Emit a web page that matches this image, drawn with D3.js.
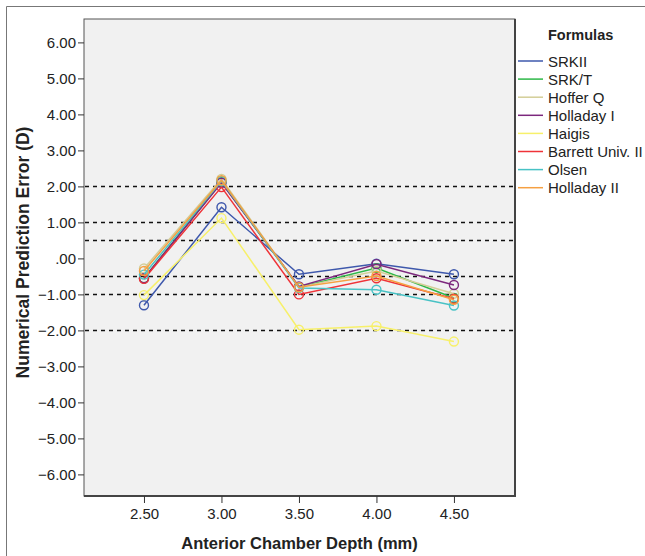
<!DOCTYPE html>
<html>
<head>
<meta charset="utf-8">
<script src="https://cdn.jsdelivr.net/npm/d3@7"></script>
<style>
  body { margin: 0; background: #fff; }
  text { font-family: "Liberation Sans", Arial, sans-serif; fill: #222; }
</style>
</head>
<body>
<script>
// data
const depths = [2.5, 3.0, 3.5, 4.0, 4.5];
const formulas = ["SRKII", "SRK/T", "Hoffer Q", "Holladay I", "Haigis", "Barrett Univ. II", "Olsen", "Holladay II"];
const colours = ["#3e58ac", "#2eb848", "#d3ce97", "#7c287d", "#f7f06a", "#ef3338", "#48c2c5", "#f5a042"];

const srk2 = [-1.30, 1.42, -0.44, -0.15, -0.44];
const srkt = [-0.55, 2.12, -0.80, -0.27, -1.10];
const hofferQ = [-0.28, 2.21, -0.80, -0.35, -0.98];
const holladay1 = [-0.55, 2.10, -0.78, -0.16, -0.74];
const haigis = [-1.02, 1.12, -1.98, -1.88, -2.31];
const barrett = [-0.57, 1.98, -1.00, -0.55, -1.12];
const olsen = [-0.45, 2.15, -0.82, -0.87, -1.31];
const holladay2 = [-0.35, 2.17, -0.80, -0.49, -1.15];
const seriesValues = [srk2, srkt, hofferQ, holladay1, haigis, barrett, olsen, holladay2];

const refLines = [2, 1, 0.5, -0.5, -1, -2];
const yTicks = [6, 5, 4, 3, 2, 1, 0, -1, -2, -3, -4, -5, -6];

const width = 645, height = 556;
const margin = { top: 19, right: 130, bottom: 60, left: 84 };

const svg = d3.select("body").append("svg")
    .attr("width", width)
    .attr("height", height);

// outer frame (only left/top visible in the picture)
svg.append("path")
    .attr("d", `M6.5,${height} V6.5 H${width}`)
    .attr("fill", "none")
    .attr("stroke", "#777")
    .attr("stroke-width", 1);

const x = d3.scaleLinear()
    .domain([2.113, 4.894])
    .range([margin.left, width - margin.right]);

const y = d3.scaleLinear()
    .domain([-6.6, 6.65])
    .range([height - margin.bottom, margin.top]);

const x0 = margin.left, x1 = width - margin.right;
const y0 = margin.top, y1 = height - margin.bottom;

// plot background
svg.append("rect")
    .attr("x", x0).attr("y", y0)
    .attr("width", x1 - x0).attr("height", y1 - y0)
    .attr("fill", "#f1f1f1")
    .attr("stroke", "#555")
    .attr("stroke-width", 1);

// darker right/bottom edge
svg.append("path")
    .attr("d", `M${x1},${y0} V${y1} H${x0}`)
    .attr("fill", "none")
    .attr("stroke", "#444")
    .attr("stroke-width", 2);

// dashed reference lines
svg.selectAll(".ref")
    .data(refLines)
    .enter()
    .append("line")
    .attr("class", "ref")
    .attr("x1", x0 + 1).attr("x2", x1 - 1)
    .attr("y1", (d) => Math.round(y(d)) + 0.5)
    .attr("y2", (d) => Math.round(y(d)) + 0.5)
    .attr("stroke", "#111")
    .attr("stroke-width", 1.4)
    .attr("stroke-dasharray", "4,4");

// axes
const yAxis = d3.axisLeft(y)
    .tickValues(yTicks)
    .tickSize(6)
    .tickPadding(2)
    .tickFormat((d) => d === 0 ? ".00" : d3.format(".2f")(d));

const gy = svg.append("g")
    .attr("transform", `translate(${x0},0)`)
    .call(yAxis);
gy.select(".domain").remove();
gy.selectAll("line").attr("stroke", "#333");
gy.selectAll("text").style("font-size", "15px").attr("fill", "#222");

const xAxis = d3.axisBottom(x)
    .tickValues(depths)
    .tickSize(7)
    .tickPadding(5)
    .tickFormat(d3.format(".2f"));

const gx = svg.append("g")
    .attr("transform", `translate(0,${y1})`)
    .call(xAxis);
gx.select(".domain").remove();
gx.selectAll("line").attr("stroke", "#333");
gx.selectAll("text").style("font-size", "15px").attr("fill", "#222");

// axis titles
svg.append("text")
    .attr("x", (x0 + x1) / 2)
    .attr("y", 549)
    .attr("text-anchor", "middle")
    .style("font-size", "16.5px")
    .style("font-weight", "bold")
    .text("Anterior Chamber Depth (mm)");

svg.append("text")
    .attr("transform", `translate(29,${(y0 + y1) / 2 - 5}) rotate(-90)`)
    .attr("text-anchor", "middle")
    .style("font-size", "17.5px")
    .style("font-weight", "bold")
    .text("Numerical Prediction Error (D)");

// series
const line = d3.line()
    .x((d, i) => x(depths[i]))
    .y((d) => y(d));

formulas.forEach((name, k) => {
    const g = svg.append("g").attr("class", "series");
    g.append("path")
        .datum(seriesValues[k])
        .attr("d", line)
        .attr("fill", "none")
        .attr("stroke", colours[k])
        .attr("stroke-width", 1.5);
    g.selectAll("circle")
        .data(seriesValues[k])
        .enter()
        .append("circle")
        .attr("cx", (d, i) => x(depths[i]))
        .attr("cy", (d) => y(d))
        .attr("r", 4.5)
        .attr("fill", "none")
        .attr("stroke", colours[k])
        .attr("stroke-width", 1.4);
});

// legend
const legend = svg.append("g").attr("transform", "translate(518,0)");
legend.append("text")
    .attr("x", 30)
    .attr("y", 40)
    .style("font-size", "14.5px")
    .style("font-weight", "bold")
    .text("Formulas");

const items = legend.selectAll(".legend-item")
    .data(formulas)
    .enter()
    .append("g")
    .attr("class", "legend-item")
    .attr("transform", (d, i) => `translate(0, ${61 + i * 18.1})`);

items.append("line")
    .attr("x1", 0).attr("x2", 25)
    .attr("stroke", (d, i) => colours[i])
    .attr("stroke-width", 1.5);

items.append("text")
    .attr("x", 30)
    .attr("y", 5.5)
    .style("font-size", "15px")
    .text((d) => d);
</script>
</body>
</html>
